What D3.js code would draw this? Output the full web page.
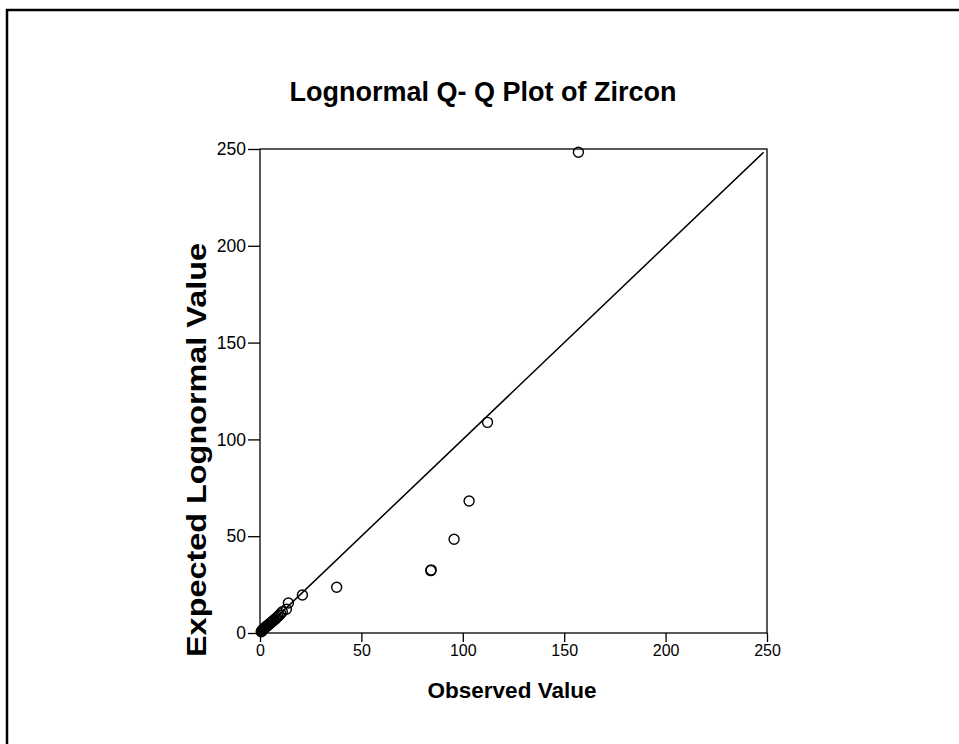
<!DOCTYPE html>
<html>
<head>
<meta charset="utf-8">
<script src="https://cdn.jsdelivr.net/npm/d3@7"></script>
<style>
  html, body { margin: 0; padding: 0; background: #fff; }
  svg { display: block; font-family: "Liberation Sans", Arial, sans-serif; }
</style>
</head>
<body>
<svg id="chart" width="959" height="744"></svg>
<script>
// Observed zircon values (sorted) and their expected lognormal quantiles
const observed = [0.6, 0.8, 1.0, 1.2, 1.5, 1.8, 2.1, 2.4, 2.7, 3.0, 3.4, 3.8, 4.2, 4.6, 5.0,
  5.5, 6.0, 6.5, 7.0, 7.6, 8.2, 8.8, 9.5, 10.2, 11.0, 13.0, 14.0, 20.9, 37.8,
  84.2, 84.4, 95.7, 103.1, 112.2, 157.0];
const expected = [0.6, 0.9, 1.2, 1.5, 1.8, 2.1, 2.4, 2.7, 3.0, 3.3, 3.6, 3.9, 4.3, 4.6, 5.0,
  5.4, 5.8, 6.3, 6.8, 7.3, 7.9, 8.5, 9.2, 10.0, 11.0, 12.3, 15.5, 19.6, 23.6,
  32.2, 32.6, 48.4, 68.2, 108.8, 248.3];
const xTicks = [0, 50, 100, 150, 200, 250];
const yTicks = [0, 50, 100, 150, 200, 250];

const titleText = "Lognormal Q- Q Plot of Zircon";
const xTitle = "Observed Value";
const yTitle = "Expected Lognormal Value";

const svg = d3.select("#chart");

// outer frame around the chart
svg.append("rect")
  .attr("x", 7).attr("y", 10)
  .attr("width", 980).attr("height", 760)
  .attr("fill", "none").attr("stroke", "#000").attr("stroke-width", 2.5);

const plot = { left: 260, top: 149, width: 507, height: 484 };

const x = d3.scaleLinear().domain([0, 250]).range([plot.left, plot.left + plot.width]);
const y = d3.scaleLinear().domain([0, 250]).range([plot.top + plot.height, plot.top]);

// plot box
svg.append("rect")
  .attr("x", plot.left).attr("y", plot.top)
  .attr("width", plot.width).attr("height", plot.height)
  .attr("fill", "none").attr("stroke", "#000").attr("stroke-width", 1.3);

// axes
const xAxis = d3.axisBottom(x).tickValues(xTicks).tickSize(9).tickPadding(3);
const yAxis = d3.axisLeft(y).tickValues(yTicks).tickSize(12).tickPadding(2);

const gx = svg.append("g")
  .attr("transform", `translate(0,${plot.top + plot.height})`)
  .call(xAxis);
const gy = svg.append("g")
  .attr("transform", `translate(${plot.left},0)`)
  .call(yAxis);

[gx, gy].forEach(g => {
  g.select(".domain").remove();
  g.selectAll(".tick line").attr("stroke", "#000").attr("stroke-width", 1.3);
  g.selectAll(".tick text")
    .attr("fill", "#000")
    .style("font-family", "'Liberation Sans', Arial, sans-serif");
});
gx.selectAll(".tick text").style("font-size", "16px");
gy.selectAll(".tick text").style("font-size", "17.5px");

// reference line: expected = observed
const lo = d3.min(expected), hi = d3.max(expected);
svg.append("line")
  .attr("x1", x(lo)).attr("y1", y(lo))
  .attr("x2", x(hi)).attr("y2", y(hi))
  .attr("stroke", "#000").attr("stroke-width", 1.5);

// data points
const pts = observed.map((o, i) => ({ o, e: expected[i] }));
svg.append("g")
  .selectAll("circle")
  .data(pts)
  .join("circle")
  .attr("cx", d => x(d.o))
  .attr("cy", d => y(d.e))
  .attr("r", 5)
  .attr("fill", "none")
  .attr("stroke", "#000")
  .attr("stroke-width", 1.4);

// titles
svg.append("text")
  .attr("x", 483).attr("y", 101)
  .attr("text-anchor", "middle")
  .style("font-size", "27px").style("font-weight", "bold")
  .text(titleText);

svg.append("text")
  .attr("x", 512).attr("y", 698)
  .attr("text-anchor", "middle")
  .style("font-size", "22.5px").style("font-weight", "bold")
  .text(xTitle);

svg.append("text")
  .attr("transform", `translate(206,450) rotate(-90) scale(1.2,1)`)
  .attr("text-anchor", "middle")
  .style("font-size", "27px").style("font-weight", "bold")
  .text(yTitle);
</script>
</body>
</html>
